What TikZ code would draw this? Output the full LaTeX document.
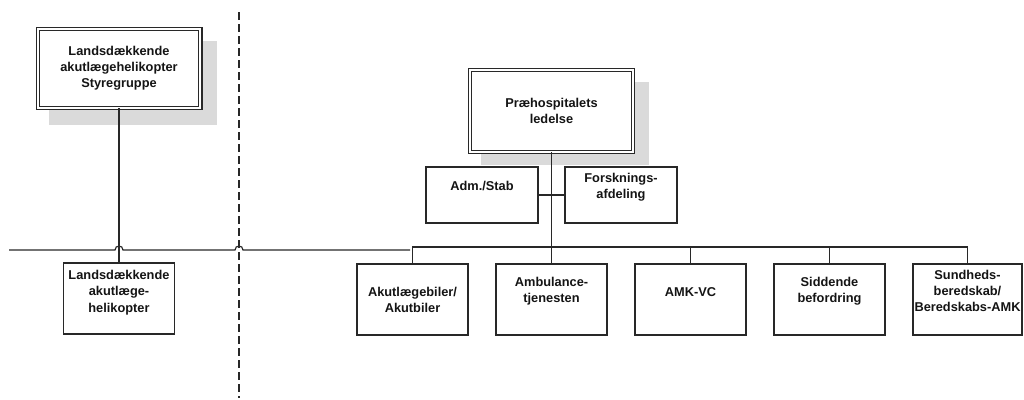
\documentclass[tikz,border=0pt]{standalone}
\usepackage{fontspec}
\setmainfont{Liberation Sans}
\definecolor{linec}{RGB}{40,40,40}
\definecolor{shadowc}{RGB}{218,218,218}
\definecolor{textc}{RGB}{20,20,20}
\tikzset{
  ln/.style={draw=linec, line width=1.2pt},
  box/.style={draw=linec, line width=1.1pt, fill=white, inner sep=0pt},
  dbox/.style={draw=linec, line width=1.1pt, double=white, double distance=2pt, fill=white, inner sep=0pt},
  txt/.style={font=\bfseries\fontsize{12.8}{16.2}\selectfont, align=center, text=textc, inner sep=0pt},
  sep/.style={draw=linec, line width=2.2pt, dash pattern=on 8pt off 4pt},
  shadowbox/.style={fill=shadowc},
}
\begin{document}
\begin{tikzpicture}[x=1pt,y=-1pt]
\useasboundingbox (0,0) rectangle (1024,399);
% shadows
\fill[shadowbox] (49,41) rectangle (217,125);
\fill[shadowbox] (481,82) rectangle (649,165);
% separator
\coordinate (dtop) at (239,12);
\coordinate (dbot) at (239,398);
\draw[sep] (dtop) -- (dbot);
% boxes
\node[dbox, minimum width=162.8pt, minimum height=78.8pt] (styr) at (119,68.5) {};
\node[dbox, minimum width=162.8pt, minimum height=81.8pt] (prae) at (551.5,111) {};
\node[box, minimum width=112pt, minimum height=56pt] (adm) at (482,195) {};
\node[box, minimum width=112pt, minimum height=56pt] (forsk) at (621,195) {};
\node[box, minimum width=111pt, minimum height=71pt] (heli) at (119,298.5) {};
\node[box, minimum width=111pt, minimum height=71pt] (akut) at (412.5,299.5) {};
\node[box, minimum width=111pt, minimum height=71pt] (amb) at (551.5,299.5) {};
\node[box, minimum width=111pt, minimum height=71pt] (amk) at (690.5,299.5) {};
\node[box, minimum width=111pt, minimum height=71pt] (sidd) at (829.5,299.5) {};
\node[box, minimum width=109pt, minimum height=71pt] (sund) at (967.5,299.5) {};
% texts
\node[txt] (styr-t) at (styr.center) {Landsdækkende\\akutlægehelikopter\\Styregruppe};
\node[txt] (prae-t) at (prae.center) {Præhospitalets\\ledelse};
\node[txt] (adm-t) at (482,186) {Adm./Stab};
\node[txt] (forsk-t) at (621,187) {Forsknings-\\afdeling};
\node[txt] (heli-t) at (119,292.5) {Landsdækkende\\akutlæge-\\helikopter};
\node[txt] (akut-t) at (412.5,300) {Akutlægebiler/\\Akutbiler};
\node[txt] (amb-t) at (551.5,291) {Ambulance-\\tjenesten};
\node[txt] (amk-t) at (690.5,292) {AMK-VC};
\node[txt] (sidd-t) at (829.5,291) {Siddende\\befordring};
\node[txt] (sund-t) at (967.5,291) {Sundheds-\\beredskab/\\Beredskabs-AMK};
% connectors
\draw[ln] (styr.south) -- (heli.north);
\draw[ln] (prae.south) -- (amb.north);
\draw[ln] (adm.east) -- (forsk.west);
\coordinate (bus) at (0,247);
\draw[ln] (akut.north) |- (bus -| sund.north) -- (sund.north);
\draw[ln] (amk.north) -- (amk.north |- bus);
\draw[ln] (sidd.north) -- (sidd.north |- bus);
\coordinate (lstart) at (410,250);
\coordinate (lend) at (9,250);
\draw[ln] (lstart) -- (243,250) .. controls (243,244.7) and (235,244.7) .. (235,250)
  -- (123,250) .. controls (123,244.7) and (115,244.7) .. (115,250) -- (lend);
\end{tikzpicture}
\end{document}
